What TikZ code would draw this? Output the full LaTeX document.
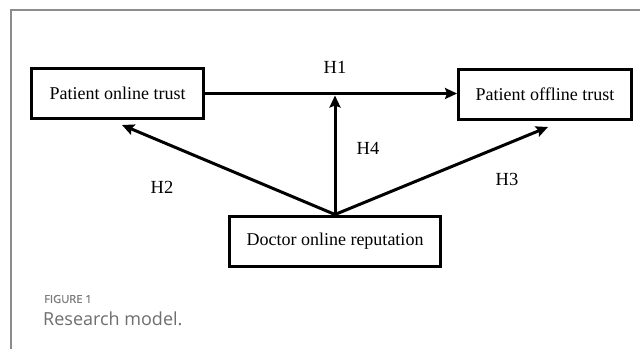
\documentclass[tikz,border=0pt]{standalone}
\usepackage{fontspec}
\setmainfont{Liberation Serif}
\newfontfamily\capfont{Open Sans}
\newfontfamily\capfontsp[FakeBold=1,LetterSpace=1]{Open Sans}
\usetikzlibrary{arrows.meta}
\definecolor{framegray}{HTML}{8C8C8C}
\definecolor{capgray}{HTML}{6E6E6E}
\definecolor{figgray}{HTML}{7A7A7A}
\begin{document}
\begin{tikzpicture}[x=1pt,y=-1pt,
  box/.style={draw=black,line width=3pt,rectangle,minimum height=50pt,inner sep=0pt,
    font=\fontsize{18}{20}\selectfont},
  arr/.style={line width=3pt,-{Stealth[length=12pt,width=11pt,inset=2pt]}},
  hlab/.style={inner sep=0pt,font=\fontsize{18.5}{20}\selectfont}]
\useasboundingbox (0,0) rectangle (640,349);
\fill[white] (0,0) rectangle (640,349);
% frame
\coordinate (fbl) at (11,349);
\coordinate (ftl) at (11,10);
\coordinate (ftr) at (640,10);
\draw[framegray,line width=1.6pt] (fbl) -- (ftl) -- (ftr);
% boxes
\node[box,minimum width=172pt] (pot) at (117.5,93.5) {Patient online trust};
\node[box,minimum width=173pt] (pof) at (545,94) {Patient offline trust};
\node[box,minimum width=211pt] (dor) at (335,241) {Doctor online reputation};
% connectors
\coordinate (mid) at (335,95.5);
\coordinate (tipL) at (122,125);
\coordinate (tipR) at (548,127);
\draw[arr] (pot.east) -- (pof.west |- pot.east);
\draw[arr] (dor.north) -- (mid);
\draw[arr] (dor.north) -- (tipL);
\draw[arr] (dor.north) -- (tipR);
% labels
\node[hlab] (h1) at (335,67) {H1};
\node[hlab] (h2) at (162,187) {H2};
\node[hlab] (h3) at (507,179) {H3};
\node[hlab] (h4) at (368,148) {H4};
% caption
\node[anchor=west,inner sep=0pt,text=figgray,font=\capfontsp\fontsize{11}{13}\selectfont] (fig) at (44,299) {FIGURE 1};
\node[anchor=west,inner sep=0pt,text=capgray,font=\capfont\fontsize{18}{20}\selectfont] (cap) at (43,319) {Research model.};
\end{tikzpicture}
\end{document}
